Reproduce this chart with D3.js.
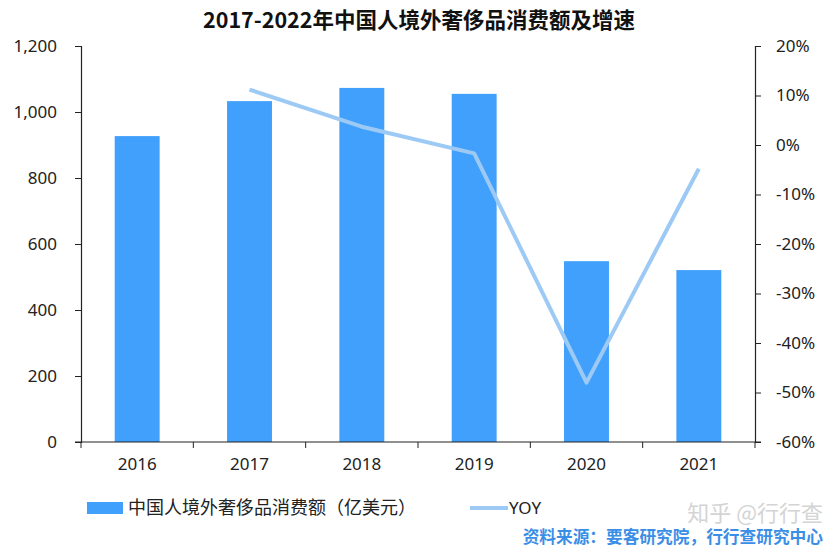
<!DOCTYPE html>
<html>
<head>
<meta charset="utf-8">
<script src="https://cdn.jsdelivr.net/npm/d3@7"></script>
<style>
  body { margin: 0; background: #fff; }
  svg { font-family: "Noto Sans CJK SC", "Noto Sans", sans-serif; }
</style>
</head>
<body>
<div id="chart"></div>
<script>
// data
const years = ['2016', '2017', '2018', '2019', '2020', '2021'];
const spend = [927, 1033, 1073, 1055, 548, 521];           // 亿美元
const yoyYears = ['2017', '2018', '2019', '2020', '2021'];
const yoy = [11.2, 3.7, -1.7, -48.0, -4.8];                 // %
const leftTicks = [0, 200, 400, 600, 800, 1000, 1200];
const rightTicks = [-60, -50, -40, -30, -20, -10, 0, 10, 20];

const w = 836, h = 549;
const padL = 81, padR = 755, padT = 46, padB = 442;

const svg = d3.select('#chart').append('svg')
    .attr('width', w)
    .attr('height', h);

const x = d3.scaleBand().domain(years).range([padL, padR]).paddingInner(0.6).paddingOuter(0.3);
const xEdge = d3.scaleBand().domain(years).range([padL, padR]);
const yL = d3.scaleLinear().domain([0, 1200]).range([padB, padT]);
const yR = d3.scaleLinear().domain([-60, 20]).range([padB, padT]);

// title
svg.append('text')
    .attr('x', 419).attr('y', 28)
    .attr('text-anchor', 'middle')
    .attr('font-size', 21.5).attr('font-weight', 'bold')
    .attr('fill', '#111')
    .text('2017-2022年中国人境外奢侈品消费额及增速');

// bars
svg.selectAll('rect.bar')
    .data(spend)
    .enter()
    .append('rect')
    .attr('class', 'bar')
    .attr('x', (d, i) => x(years[i]))
    .attr('width', x.bandwidth())
    .attr('y', d => yL(d))
    .attr('height', d => yL(0) - yL(d))
    .attr('fill', '#41A0FC');

// yoy line
const line = d3.line()
    .x((d, i) => xEdge(yoyYears[i]) + xEdge.bandwidth() / 2)
    .y(d => yR(d));
svg.append('path')
    .datum(yoy)
    .attr('d', line)
    .attr('fill', 'none')
    .attr('stroke', '#9DCAF5')
    .attr('stroke-width', 4)
    .attr('stroke-linejoin', 'round');

// axes
const leftAxis = d3.axisLeft(yL).tickValues(leftTicks).tickSize(6).tickPadding(18)
    .tickFormat(d3.format(','));
const gl = svg.append('g').attr('transform', `translate(${padL},0)`).call(leftAxis);

const rightAxis = d3.axisRight(yR).tickValues(rightTicks).tickSize(6).tickPadding(15)
    .tickFormat(d => d + '%');
const gr = svg.append('g').attr('transform', `translate(${padR},0)`).call(rightAxis);

const bottomAxis = d3.axisBottom(xEdge).tickSize(0).tickPadding(16);
const gb = svg.append('g').attr('transform', `translate(0,${padB})`).call(bottomAxis);

// category boundary ticks
svg.append('g').selectAll('line')
    .data(years.concat(['end']))
    .enter()
    .append('line')
    .attr('x1', (d, i) => padL + i * xEdge.step())
    .attr('x2', (d, i) => padL + i * xEdge.step())
    .attr('y1', padB).attr('y2', padB + 6)
    .attr('stroke', '#222');

[gl, gr, gb].forEach(g => {
    g.selectAll('path.domain').attr('stroke', '#222').attr('stroke-width', 1.2);
    g.selectAll('.tick line').attr('stroke', '#222');
    g.selectAll('.tick text').attr('font-size', 17).attr('fill', '#222')
        .attr('font-family', '"Noto Sans", sans-serif');
});
gb.select('path.domain').attr('d', `M${padL - 6},0H${padR + 6}`);

// legend
svg.append('rect')
    .attr('x', 87).attr('y', 502).attr('width', 36).attr('height', 12)
    .attr('fill', '#41A0FC');
svg.append('text')
    .attr('x', 128).attr('y', 514)
    .attr('font-size', 18).attr('fill', '#222')
    .text('中国人境外奢侈品消费额（亿美元）');
svg.append('line')
    .attr('x1', 470).attr('x2', 508).attr('y1', 508).attr('y2', 508)
    .attr('stroke', '#9DCAF5').attr('stroke-width', 4);
svg.append('text')
    .attr('x', 509).attr('y', 514)
    .attr('font-size', 17).attr('fill', '#222')
    .attr('font-family', '"Noto Sans", sans-serif')
    .text('YOY');

// watermark and source
svg.append('text')
    .attr('x', 823).attr('y', 521)
    .attr('text-anchor', 'end')
    .attr('font-size', 22).attr('fill', '#d4d4d4')
    .text('知乎 @行行查');
svg.append('text')
    .attr('x', 823).attr('y', 543)
    .attr('text-anchor', 'end')
    .attr('font-size', 16.7).attr('font-weight', 'bold')
    .attr('fill', '#3B8EE6')
    .text('资料来源：要客研究院，行行查研究中心');
</script>
</body>
</html>
